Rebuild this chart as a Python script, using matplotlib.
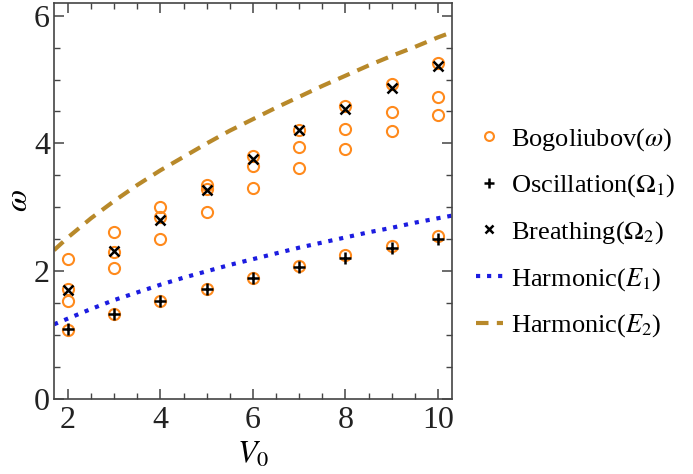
import matplotlib
matplotlib.use("Agg")
import matplotlib.pyplot as plt
from matplotlib.ticker import MultipleLocator

plt.rcParams['font.family'] = ['Liberation Serif', 'DejaVu Serif']
plt.rcParams['mathtext.fontset'] = 'stix'

# Bogoliubov spectrum, 4 modes per V0
V0 = [2, 3, 4, 5, 6, 7, 8, 9, 10]
bog_1 = [2.19, 2.61, 3.00, 3.35, 3.80, 4.21, 4.59, 4.93, 5.26]
bog_2 = [1.72, 2.30, 2.85, 3.29, 3.64, 3.95, 4.22, 4.49, 4.73]
bog_3 = [1.53, 2.05, 2.51, 2.92, 3.30, 3.62, 3.92, 4.20, 4.45]
bog_4 = [1.08, 1.33, 1.53, 1.73, 1.90, 2.09, 2.25, 2.40, 2.55]

# oscillation and breathing frequencies
omega1 = [1.09, 1.33, 1.53, 1.72, 1.89, 2.06, 2.20, 2.36, 2.50]
omega2 = [1.71, 2.32, 2.80, 3.27, 3.75, 4.21, 4.54, 4.86, 5.21]

# harmonic curves
V_h = [1.7, 2, 2.5, 3, 3.5, 4, 4.5, 5, 5.5, 6, 6.5, 7, 7.5, 8, 8.5, 9, 9.5, 10, 10.3]
E1 = [1.17, 1.26, 1.41, 1.55, 1.67, 1.79, 1.90, 2.00, 2.10, 2.19, 2.28, 2.37,
      2.45, 2.53, 2.61, 2.68, 2.76, 2.83, 2.87]
E2 = [2.33, 2.53, 2.83, 3.10, 3.35, 3.58, 3.79, 4.00, 4.20, 4.38, 4.56, 4.73,
      4.90, 5.06, 5.22, 5.37, 5.51, 5.66, 5.74]

orange = '#FF8A1C'
blue = '#1C1CE0'
gold = '#B8892A'

fig = plt.figure(figsize=(6.93, 4.74), dpi=100)
ax = fig.add_axes([0.078, 0.158, 0.574, 0.836])

ax.plot(V_h, E1, ':', color=blue, lw=3, label=r'Harmonic($E_1$)')
ax.plot(V_h, E2, '--', color=gold, lw=3, dashes=(3, 2), label=r'Harmonic($E_2$)')

for i, b in enumerate([bog_1, bog_2, bog_3, bog_4]):
    ax.plot(V0, b, 'o', ms=8, mfc='none', mec=orange, mew=1.5,
            label=r'Bogoliubov($\omega$)' if i == 0 else None)
ax.plot(V0, omega1, '+', ms=9, color='black', mew=1.8, label=r'Oscillation($\Omega_1$)')
ax.plot(V0, omega2, 'x', ms=7, color='black', mew=1.8, label=r'Breathing($\Omega_2$)')

ax.set_xlim(1.7, 10.3)
ax.set_ylim(0, 6.2)
ax.xaxis.set_major_locator(MultipleLocator(2))
ax.xaxis.set_minor_locator(MultipleLocator(0.5))
ax.yaxis.set_major_locator(MultipleLocator(2))
ax.yaxis.set_minor_locator(MultipleLocator(0.5))
ax.tick_params(which='both', direction='in', top=True, right=True,
               color='#444444', labelsize=23, labelcolor='#222222')
ax.tick_params(which='major', length=7, width=1.1)
ax.tick_params(which='minor', length=4, width=1.0)
ax.tick_params(axis='x', pad=5)
ax.tick_params(axis='y', pad=3)
for s in ax.spines.values():
    s.set_color('#444444')
    s.set_linewidth(1.2)

ax.set_xlabel(r'$V_0$', fontsize=23, labelpad=4)
ax.set_ylabel(r'$\omega$', fontsize=23, labelpad=0)

handles, labels = ax.get_legend_handles_labels()
order = [2, 3, 4, 0, 1]
ax.legend([handles[k] for k in order], [labels[k] for k in order],
          loc='center left', bbox_to_anchor=(1.0, 0.42), frameon=False,
          fontsize=19, handlelength=1.05, handletextpad=0.3, labelspacing=0.75,
          markerscale=0.8)

fig.savefig('out.png', dpi=100)
